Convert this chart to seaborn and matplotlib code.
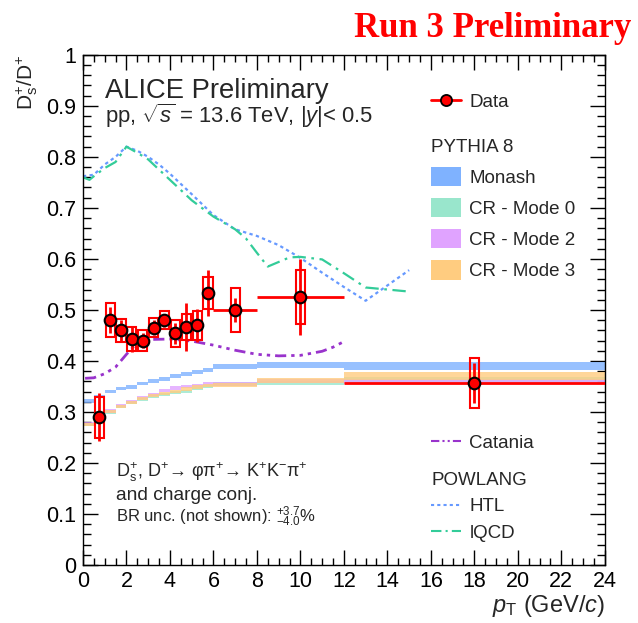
import numpy as np
import pandas as pd
import matplotlib
matplotlib.use("Agg")
import matplotlib.pyplot as plt
from matplotlib.patches import Rectangle, Patch
from matplotlib.lines import Line2D
import seaborn as sns

# ---------------- data ----------------
# measured Ds+/D+ ratio
x_data = [0.75, 1.25, 1.75, 2.25, 2.75, 3.25, 3.75, 4.25, 4.75, 5.25, 5.75, 7.0, 10.0, 18.0]
x_halfw = [0.25, 0.25, 0.25, 0.25, 0.25, 0.25, 0.25, 0.25, 0.25, 0.25, 0.25, 1.0, 2.0, 6.0]
y_data = [0.29, 0.48, 0.46, 0.443, 0.44, 0.465, 0.48, 0.454, 0.467, 0.47, 0.533, 0.50, 0.525, 0.357]
stat_err = [0.047, 0.025, 0.02, 0.026, 0.015, 0.015, 0.013, 0.02, 0.047, 0.032, 0.045, 0.023, 0.075, 0.039]
syst_err = [0.04, 0.033, 0.022, 0.024, 0.02, 0.019, 0.018, 0.027, 0.026, 0.028, 0.031, 0.043, 0.053, 0.049]

# PYTHIA 8 predictions (histogram bins)
pyt_edges = [0, 0.5, 1, 1.5, 2, 2.5, 3, 3.5, 4, 4.5, 5, 5.5, 6, 8, 12, 24]
monash = [0.322, 0.330, 0.3405, 0.346, 0.349, 0.356, 0.361, 0.365, 0.371, 0.374, 0.378, 0.382, 0.389, 0.392, 0.390]
monash_w = [0.0035] * 12 + [0.0045, 0.005, 0.0075]
cr0 = [0.275, 0.290, 0.300, 0.310, 0.318, 0.324, 0.330, 0.334, 0.338, 0.341, 0.346, 0.350, 0.355, 0.357, 0.364]
cr0_w = [0.003] * 12 + [0.004, 0.004, 0.005]
cr2 = [0.277, 0.292, 0.302, 0.312, 0.321, 0.328, 0.335, 0.342, 0.347, 0.350, 0.352, 0.355, 0.354, 0.360, 0.360]
cr2_w = [0.003] * 12 + [0.004, 0.004, 0.005]
cr3 = [0.276, 0.291, 0.301, 0.311, 0.319, 0.326, 0.332, 0.337, 0.341, 0.345, 0.349, 0.352, 0.353, 0.361, 0.370]
cr3_w = [0.003] * 12 + [0.004, 0.005, 0.008]

# Catania
cat_x = [0.1, 0.5, 1.0, 1.5, 2.0, 2.5, 3.0, 4.0, 5.0, 6.0, 7.0, 8.0, 9.0, 10.0, 11.0, 11.5, 12.0]
cat_y = [0.366, 0.367, 0.375, 0.388, 0.413, 0.436, 0.442, 0.443, 0.439, 0.431, 0.421, 0.413, 0.410, 0.411, 0.419, 0.427, 0.438]

# POWLANG HTL
htl_x = [0, 0.5, 1, 1.5, 2, 2.5, 3, 3.5, 4, 4.5, 5, 6, 7, 8, 9, 10, 11, 12, 13, 14, 15]
htl_y = [0.762, 0.765, 0.785, 0.800, 0.820, 0.812, 0.800, 0.785, 0.767, 0.747, 0.727, 0.686, 0.658, 0.645, 0.627, 0.602, 0.573, 0.545, 0.518, 0.548, 0.578]

# POWLANG lQCD
lqcd_x = [0, 0.3, 0.5, 1, 1.5, 2, 2.5, 3, 3.5, 4, 4.5, 5, 6, 7, 7.5, 8, 8.5, 9.5, 10, 11, 12, 13, 15]
lqcd_y = [0.760, 0.755, 0.762, 0.778, 0.790, 0.820, 0.808, 0.795, 0.775, 0.755, 0.735, 0.715, 0.683, 0.658, 0.640, 0.612, 0.585, 0.603, 0.604, 0.599, 0.572, 0.544, 0.536]

# ---------------- style ----------------
sns.set_theme(style="ticks")
plt.rcParams["font.family"] = ["Liberation Sans", "DejaVu Sans"]
plt.rcParams["mathtext.fontset"] = "custom"
plt.rcParams["mathtext.rm"] = "Liberation Sans"
plt.rcParams["mathtext.it"] = "Liberation Sans:italic"
plt.rcParams["mathtext.bf"] = "Liberation Sans:bold"

c_monash = "#7fb2ff"
c_cr0 = "#99e6cc"
c_cr2 = "#e0a3ff"
c_cr3 = "#ffcc80"
c_cat = "#9933cc"
c_htl = "#6699ff"
c_lqcd = "#33cc99"

fig = plt.figure(figsize=(6.38, 6.23), dpi=100)
ax = fig.add_axes([0.130, 0.093, 0.818, 0.819])

# PYTHIA bands
edges = np.array(pyt_edges)
for vals, wid, col in [(monash, monash_w, c_monash), (cr0, cr0_w, c_cr0),
                       (cr2, cr2_w, c_cr2), (cr3, cr3_w, c_cr3)]:
    v = np.array(vals)
    w = np.array(wid)
    lo = np.append(v - w, (v - w)[-1])
    hi = np.append(v + w, (v + w)[-1])
    ax.fill_between(edges, lo, hi, step="post", color=col, alpha=0.8, lw=0)

# model curves
df_cat = pd.DataFrame({"x": cat_x, "y": cat_y})
df_htl = pd.DataFrame({"x": htl_x, "y": htl_y})
df_lqcd = pd.DataFrame({"x": lqcd_x, "y": lqcd_y})
sns.lineplot(data=df_cat, x="x", y="y", ax=ax, color=c_cat, lw=2,
             estimator=None, sort=False)
ax.lines[-1].set_dashes([4, 1.8, 1.2, 1.8, 1.2, 1.8, 1.2, 1.8])
sns.lineplot(data=df_htl, x="x", y="y", ax=ax, color=c_htl, lw=1.6,
             estimator=None, sort=False)
ax.lines[-1].set_dashes([1.5, 1.5])
sns.lineplot(data=df_lqcd, x="x", y="y", ax=ax, color=c_lqcd, lw=1.6,
             estimator=None, sort=False)
ax.lines[-1].set_dashes([6, 2.5, 1.2, 2.5])

# data: syst boxes
box_w = 0.42
for xc, yc, s in zip(x_data, y_data, syst_err):
    ax.add_patch(Rectangle((xc - box_w / 2, yc - s), box_w, 2 * s,
                           fill=False, edgecolor="red", lw=1.5, zorder=5))
# data: stat + bin width
ax.errorbar(x_data, y_data, xerr=x_halfw, yerr=stat_err, fmt="none",
            ecolor="red", elinewidth=2, capsize=0, zorder=6)
df_data = pd.DataFrame({"x": x_data, "y": y_data})
sns.scatterplot(data=df_data, x="x", y="y", ax=ax, color="red",
                edgecolor="black", linewidth=1.5, s=70, zorder=7)

# axes
ax.set_xlim(0, 24)
ax.set_ylim(0, 1)
ax.set_xticks(np.arange(0, 25, 2))
ax.set_xticks(np.arange(0, 24.01, 0.5), minor=True)
ax.set_yticks(np.arange(0, 1.01, 0.1))
ax.set_yticklabels(["0", "0.1", "0.2", "0.3", "0.4", "0.5", "0.6", "0.7", "0.8", "0.9", "1"])
ax.set_yticks(np.arange(0, 1.001, 0.02), minor=True)
ax.tick_params(which="both", direction="in", top=True, right=True,
               colors="black", width=1.0, labelsize=15.5)
ax.tick_params(axis="x", which="major", length=11, pad=4)
ax.tick_params(axis="x", which="minor", length=5)
ax.tick_params(axis="y", which="major", length=11, pad=5)
ax.tick_params(axis="y", which="minor", length=5.5)
for sp in ax.spines.values():
    sp.set_linewidth(1.0)
    sp.set_color("black")

ax.set_xlabel(r"$p_{\mathrm{T}}$ (GeV/$c$)", fontsize=17, loc="right", labelpad=1)
ax.set_ylabel(r"$\mathrm{D_{s}^{+}/D^{+}}$", fontsize=15, loc="top", labelpad=4)

# texts
ax.text(0.042, 0.916, "ALICE Preliminary", transform=ax.transAxes,
        fontsize=19.7, va="baseline", ha="left")
ax.text(0.042, 0.866, r"pp, $\sqrt{s}$ = 13.6 TeV, |$y$|< 0.5", transform=ax.transAxes,
        fontsize=15.8, va="baseline", ha="left")
ax.text(0.063, 0.173, r"D$_{\mathrm{s}}^{+}$, D$^{+}$→ φπ$^{+}$→ K$^{+}$K$^{-}$π$^{+}$",
        transform=ax.transAxes, fontsize=13, va="baseline", ha="left")
ax.text(0.063, 0.127, "and charge conj.", transform=ax.transAxes,
        fontsize=13.8, va="baseline", ha="left")
ax.text(0.063, 0.084, r"BR unc. (not shown): ${}^{+3.7}_{-4.0}$%", transform=ax.transAxes,
        fontsize=12, va="baseline", ha="left")

fig.text(0.99, 0.94, "Run 3 Preliminary", color="red", fontsize=25,
         fontweight="bold", family=["Liberation Serif", "DejaVu Serif"],
         ha="right", va="baseline")

# legends
lfs = 13.5
leg_kw = dict(frameon=False, fontsize=lfs, handlelength=1.6, handletextpad=0.45,
              borderaxespad=0, borderpad=0, loc="upper left", alignment="left")
h_data = [Line2D([0], [0], color="red", lw=2, marker="o", markersize=8,
                 markerfacecolor="red", markeredgecolor="black", markeredgewidth=1.3)]
leg1 = ax.legend(h_data, ["Data"], bbox_to_anchor=(0.667, 0.924), **leg_kw)
ax.add_artist(leg1)

h_pyt = [Patch(facecolor=c, edgecolor="none") for c in [c_monash, c_cr0, c_cr2, c_cr3]]
leg2 = ax.legend(h_pyt, ["Monash", "CR - Mode 0", "CR - Mode 2", "CR - Mode 3"],
                 title="PYTHIA 8", title_fontsize=lfs, handleheight=1.2,
                 labelspacing=0.6, bbox_to_anchor=(0.667, 0.836), **leg_kw)
ax.add_artist(leg2)

h_cat = [Line2D([0], [0], color=c_cat, lw=1.5, dashes=[4, 1.5, 1, 1.5, 1, 1.5])]
leg3 = ax.legend(h_cat, ["Catania"], bbox_to_anchor=(0.667, 0.256), **leg_kw)
ax.add_artist(leg3)

h_pow = [Line2D([0], [0], color=c_htl, lw=1.5, dashes=[1.5, 1.5]),
         Line2D([0], [0], color=c_lqcd, lw=1.5, dashes=[5, 2, 1, 2])]
leg4 = ax.legend(h_pow, ["HTL", "lQCD"], title="POWLANG", title_fontsize=lfs,
                 labelspacing=0.5, bbox_to_anchor=(0.667, 0.183), **leg_kw)

fig.savefig("out.png", dpi=100)
